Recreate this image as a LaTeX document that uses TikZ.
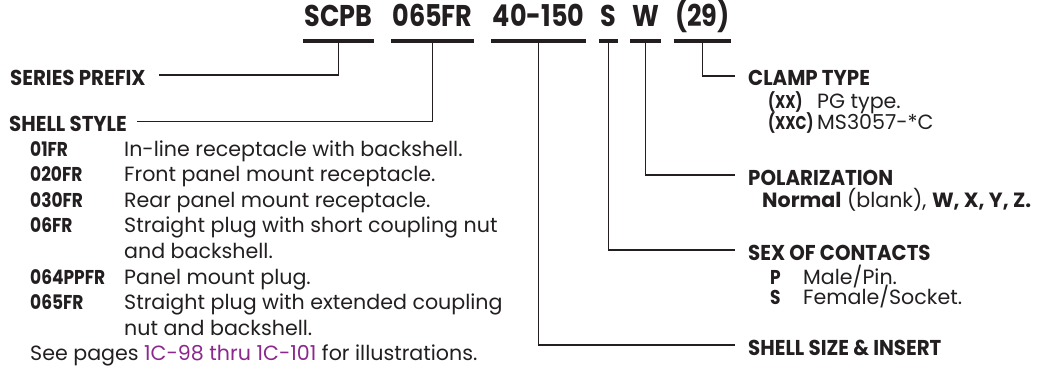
\documentclass[tikz,border=0pt]{standalone}
\usepackage{fontspec}
\setmainfont{Poppins}
\newfontfamily\narrowfont[FakeStretch=0.85]{Poppins}
\newfontfamily\headfont[FakeStretch=0.92]{Poppins}
\newfontfamily\tightfont[FakeStretch=0.78]{Poppins}
\usetikzlibrary{positioning}
\definecolor{ink}{RGB}{35,31,32}
\definecolor{pagelink}{RGB}{140,40,140}

\begin{document}
\begin{tikzpicture}[
        x=1pt,
        y=-1pt,
        every node/.style={text=ink, inner sep=0pt},
        partno/.style={
            font=\narrowfont\bfseries\fontsize{30}{30}\selectfont,
            anchor=base,
            text height=22pt,
            text depth=0pt,
            inner ysep=14pt,
            inner xsep=1.5pt
        },
        partbar/.style={draw=ink, line width=4pt},
        leader/.style={draw=ink, line width=1.9pt, shorten >=13pt},
        heading/.style={
            font=\headfont\bfseries\fontsize{21.5}{21.5}\selectfont,
            anchor=base west,
            text height=20pt,
            text depth=0pt
        },
        optcode/.style={font=\narrowfont\bfseries\fontsize{20}{20}\selectfont, anchor=base west},
        clampopt/.style={font=\tightfont\bfseries\fontsize{18.5}{18.5}\selectfont, anchor=base west},
        opttext/.style={font=\fontsize{20.6}{20.6}\selectfont, anchor=base west}
    ]
        \useasboundingbox (0,0) rectangle (1037,369);

        % part number across the top
        \node[partno] (prefixcode) at (338.5,27) {SCPB};
        \node[partno] (stylecode)  at (432.5,27) {065FR};
        \node[partno] (sizecode)   at (538.5,27) {40-150};
        \node[partno] (sexcode)    at (608.5,27) {S};
        \node[partno] (polcode)    at (645.5,27) {W};
        \node[partno] (clampcode)  at (702.5,27) {(29)};

        \foreach \part in {prefixcode,stylecode,sizecode,sexcode,polcode,clampcode}
            \draw[partbar] (\part.south west) -- (\part.south east);

        % left column
        \node[heading] (prefixhead) at (10,85)  {SERIES PREFIX};
        \node[heading] (stylehead)  at (9,131.5)  {SHELL STYLE};

        \foreach \code/\desc/\y [count=\i] in {
                01FR/In-line receptacle with backshell./156,
                020FR/Front panel mount receptacle./181.6,
                030FR/Rear panel mount receptacle./207.2,
                06FR/Straight plug with short coupling nut/232.8,
                064PPFR/Panel mount plug./284,
                065FR/Straight plug with extended coupling/309.6} {
            \node[optcode] (stylecode\i) at (30,\y) {\code};
            \node[opttext] (styledesc\i) at (124,\y) {\desc};
        }
        \node[opttext] (styledesc4b) at (124,258.4) {and backshell.};
        \node[opttext] (styledesc6b) at (124,335.2) {nut and backshell.};
        \node[opttext] (seepages) at (30,360.8)
            {See pages \textcolor{pagelink}{1C-98 thru 1C-101} for illustrations.};

        % right column
        \node[heading] (clamphead) at (748,86)  {CLAMP TYPE};
        \node[clampopt] (clampcode1) at (768,109) {(XX)};
        \node[opttext] (clampdesc1) at (817,109) {PG type.};
        \node[clampopt] (clampcode2) at (768,129.5) {(XXC)};
        \node[opttext] (clampdesc2) at (817,129.5) {MS3057-*C};

        \node[heading] (polhead) at (748,185) {POLARIZATION};
        \node[opttext] (poldesc) at (762,207)
            {\textbf{Normal} (blank), \textbf{W, X, Y, Z.}};

        \node[heading] (sexhead) at (748,260) {SEX OF CONTACTS};
        \node[optcode] (sexcode1) at (770,284) {P};
        \node[opttext] (sexdesc1) at (803,284) {Male/Pin.};
        \node[optcode] (sexcode2) at (770,304.5) {S};
        \node[opttext] (sexdesc2) at (803,304.5) {Female/Socket.};

        \node[heading] (sizehead) at (748,355) {SHELL SIZE \& INSERT};

        % leaders
        \draw[leader] (prefixcode.south) |- (prefixhead.east);
        \draw[leader, shorten >=10pt] (stylecode.south) |- (stylehead.east);
        \draw[leader] (clampcode.south) |- (clamphead.west);
        \draw[leader] (polcode.south) |- (polhead.west);
        \draw[leader] (sexcode.south) |- (sexhead.west);
        \draw[leader] (sizecode.south) |- (sizehead.west);
\end{tikzpicture}
\end{document}
